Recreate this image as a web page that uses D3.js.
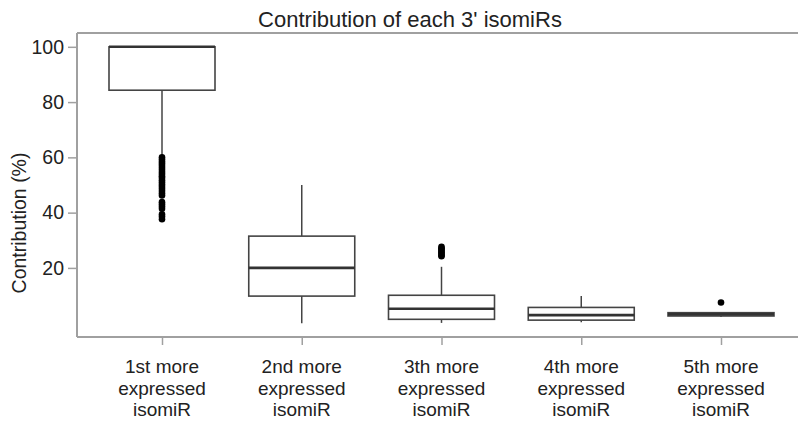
<!DOCTYPE html>
<html lang="en">
<head>
<meta charset="UTF-8">
<title>Contribution of each 3' isomiRs</title>
<script src="https://d3js.org/d3.v7.min.js"></script>
<style>
  body { margin: 0; background: #fff; }
  text { font-family: "Liberation Sans", Arial, sans-serif; fill: #222; }
</style>
</head>
<body>
<div id="chart"></div>
<script>
  // categories and box stats
  var categories = ["1st", "2nd", "3th", "4th", "5th"];
  var q1      = [84.3,  9.8, 1.4, 1.1, 2.6];
  var median  = [100,  20.0, 5.2, 2.9, 3.2];
  var q3      = [100,  31.5, 10.1, 5.7, 3.8];
  var whiskLo = [60.8,  0.0, 0.1, 0.3, 2.2];
  var whiskHi = [100,  50.0, 20.4, 9.8, 4.0];
  var outliers = [
    [60, 59.3, 58.5, 57.8, 57, 56.2, 55.5, 54.7, 54, 53.2, 52.5, 51.7, 51, 50.2, 49.4, 48.6, 47.8, 47, 46.2,
     43.8, 43, 42.2, 41.4, 39.4, 38.6, 37.6],
    [],
    [27.6, 27.1, 26.6, 26.1, 25.6, 25.1, 24.6, 24.2],
    [],
    [7.5]
  ];
  var yTicks = [20, 40, 60, 80, 100];

  var W = 798, H = 422;
  var plotL = 77, plotR = 798, plotT = 33, plotB = 337;

  var svg = d3.select("#chart").append("svg")
    .attr("width", W).attr("height", H);

  var x = d3.scalePoint()
    .domain(categories)
    .range([plotL + 85, plotR - 77]);
  var boxW = 106;

  var y = d3.scaleLinear()
    .domain([-5, 105])
    .range([plotB, plotT]);

  // frame: top border
  svg.append("line")
    .attr("x1", plotL).attr("x2", plotR)
    .attr("y1", plotT).attr("y2", plotT)
    .attr("stroke", "#a0a0a0").attr("stroke-width", 2);

  // y axis
  var yAxis = svg.append("g")
    .attr("transform", "translate(" + plotL + ",0)")
    .call(d3.axisLeft(y).tickValues(yTicks).tickSize(9).tickPadding(4));
  yAxis.select(".domain").remove();
  yAxis.append("line")
    .attr("x1", 0).attr("x2", 0).attr("y1", plotT).attr("y2", plotB)
    .attr("stroke", "#a0a0a0").attr("stroke-width", 2);
  yAxis.selectAll(".tick line").attr("stroke", "#a0a0a0").attr("stroke-width", 1.5);
  yAxis.selectAll(".tick text")
    .style("font-size", "19.5px").style("font-family", "Liberation Sans, Arial, sans-serif")
    .attr("fill", "#222");

  // x axis
  var xAxis = svg.append("g")
    .attr("transform", "translate(0," + plotB + ")")
    .call(d3.axisBottom(x).tickSize(8).tickFormat(""));
  xAxis.select(".domain").remove();
  xAxis.append("line")
    .attr("x1", plotL).attr("x2", plotR).attr("y1", 0).attr("y2", 0)
    .attr("stroke", "#a0a0a0").attr("stroke-width", 2);
  xAxis.selectAll(".tick line").attr("stroke", "#a0a0a0").attr("stroke-width", 1.5);

  // multi-line category labels
  categories.forEach(function(c) {
    var t = svg.append("text")
      .attr("x", x(c)).attr("y", 373)
      .attr("text-anchor", "middle")
      .style("font-size", "19px");
    [c + " more", "expressed", "isomiR"].forEach(function(line, i) {
      t.append("tspan").attr("x", x(c)).attr("dy", i === 0 ? 0 : 21.5).text(line);
    });
  });

  // boxes
  var g = svg.append("g");
  categories.forEach(function(c, i) {
    var cx = x(c);
    // whiskers
    g.append("line")
      .attr("x1", cx).attr("x2", cx)
      .attr("y1", y(q3[i])).attr("y2", y(whiskHi[i]))
      .attr("stroke", "#444").attr("stroke-width", 1.5);
    g.append("line")
      .attr("x1", cx).attr("x2", cx)
      .attr("y1", y(q1[i])).attr("y2", y(whiskLo[i]))
      .attr("stroke", "#444").attr("stroke-width", 1.5);
    // box
    g.append("rect")
      .attr("x", cx - boxW / 2).attr("width", boxW)
      .attr("y", y(q3[i])).attr("height", y(q1[i]) - y(q3[i]))
      .attr("fill", "#fff").attr("stroke", "#444").attr("stroke-width", 1.6);
    // median
    g.append("line")
      .attr("x1", cx - boxW / 2).attr("x2", cx + boxW / 2)
      .attr("y1", y(median[i])).attr("y2", y(median[i]))
      .attr("stroke", "#333").attr("stroke-width", 2.6);
    // outliers
    g.selectAll(null).data(outliers[i]).enter().append("circle")
      .attr("cx", cx).attr("cy", function(d) { return y(d); })
      .attr("r", 3.3).attr("fill", "#000");
  });

  // title
  svg.append("text")
    .attr("x", 410).attr("y", 27)
    .attr("text-anchor", "middle")
    .style("font-size", "22px")
    .text("Contribution of each 3' isomiRs");

  // y label
  svg.append("text")
    .attr("transform", "translate(26,223) rotate(-90)")
    .attr("text-anchor", "middle")
    .style("font-size", "19.5px")
    .text("Contribution (%)");
</script>
</body>
</html>
